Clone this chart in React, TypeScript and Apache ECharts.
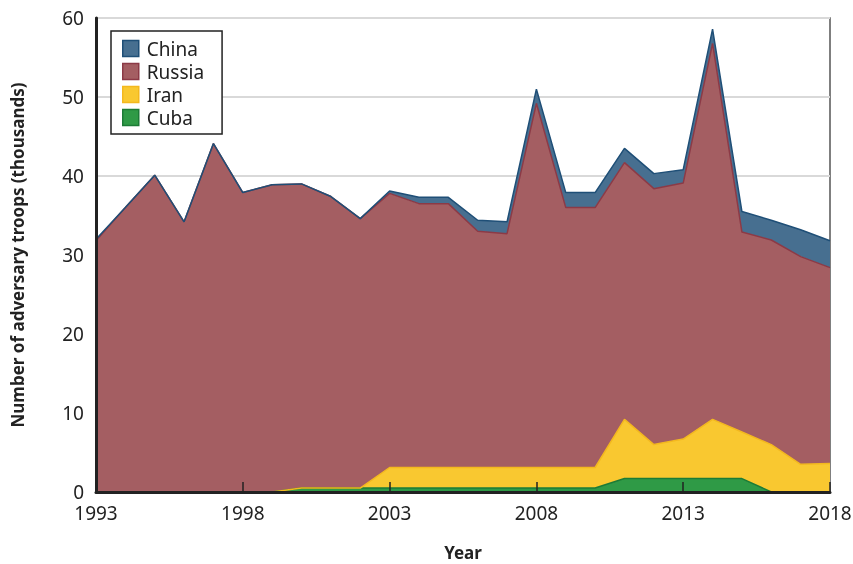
import React, { useEffect, useRef } from "react";
import * as echarts from "echarts";

const years = [
  "1993", "1994", "1995", "1996", "1997", "1998", "1999", "2000", "2001", "2002",
  "2003", "2004", "2005", "2006", "2007", "2008", "2009", "2010", "2011", "2012",
  "2013", "2014", "2015", "2016", "2017", "2018",
];
const cuba = [0, 0, 0, 0, 0, 0, 0, 0.5, 0.5, 0.5, 0.5, 0.5, 0.5, 0.5, 0.5, 0.5, 0.5, 0.5, 1.7, 1.7, 1.7, 1.7, 1.7, 0, 0, 0];
const iran = [0, 0, 0, 0, 0, 0, 0, 0, 0, 0, 2.6, 2.6, 2.6, 2.6, 2.6, 2.6, 2.6, 2.6, 7.5, 4.3, 5.0, 7.5, 5.9, 6.0, 3.5, 3.6];
const russia = [31.8, 36.0, 40.1, 34.2, 44.1, 37.9, 38.9, 38.5, 36.9, 34.1, 34.7, 33.4, 33.4, 29.9, 29.6, 46.1, 32.9, 32.9, 32.5, 32.4, 32.4, 47.6, 25.3, 25.9, 26.3, 24.8];
const china = [0.2, 0, 0, 0, 0, 0, 0, 0, 0, 0, 0.3, 0.8, 0.8, 1.4, 1.5, 1.8, 1.9, 1.9, 1.8, 1.9, 1.7, 1.8, 2.6, 2.5, 3.4, 3.4];
const legendOrder = ["China", "Russia", "Iran", "Cuba"];

const FONT = "Noto Sans";

function areaSeries(name: string, data: number[], fill: string, stroke: string) {
  return {
    name,
    type: "line",
    stack: "total",
    yAxisIndex: 0,
    data,
    symbol: "none",
    showSymbol: false,
    lineStyle: { color: stroke, width: 1.5 },
    itemStyle: { color: fill, borderColor: stroke, borderWidth: 1.5 },
    areaStyle: { color: fill, opacity: 1 },
    emphasis: { disabled: true },
  };
}

export default function App() {
  const ref = useRef<HTMLDivElement>(null);
  useEffect(() => {
    if (!ref.current) return;
    const chart = echarts.init(ref.current, undefined, { renderer: "svg" });
    chart.setOption({
      animation: false,
      textStyle: { fontFamily: FONT },
      grid: {
        left: 96,
        right: 23,
        top: 18,
        bottom: 72,
        outerBoundsMode: "none",
        containLabel: false,
        show: true,
        borderColor: "#555",
        borderWidth: 1.5,
        backgroundColor: "transparent",
      },
      legend: {
        data: legendOrder,
        orient: "vertical",
        left: 111,
        top: 31,
        backgroundColor: "#fff",
        borderColor: "#222",
        borderWidth: 1.5,
        borderRadius: 0,
        padding: [8, 18, 7, 11],
        itemWidth: 16,
        itemHeight: 16,
        itemGap: 4,
        icon: "rect",
        itemStyle: { borderWidth: 1.5 },
        textStyle: { fontSize: 19, color: "#222", fontFamily: FONT, padding: [0, 0, 0, 3] },
      },
      xAxis: {
        type: "category",
        data: years,
        boundaryGap: false,
        z: 10,
        name: "Year",
        nameLocation: "middle",
        nameGap: 52,
        nameTextStyle: { fontSize: 17, fontWeight: "bold", color: "#222", fontFamily: FONT },
        axisLine: { show: true, lineStyle: { color: "#222", width: 3 } },
        axisTick: { show: true, inside: true, interval: 4, length: 10, lineStyle: { color: "#222", width: 1.5 } },
        axisLabel: { interval: 4, fontSize: 19, lineHeight: 16, color: "#222", margin: 13, fontFamily: FONT },
        splitLine: { show: false },
      },
      yAxis: [
        {
          type: "value",
          min: 0,
          max: 60,
          interval: 10,
          name: "Number of adversary troops (thousands)",
          nameLocation: "middle",
          nameGap: 70,
          nameTextStyle: { fontSize: 17, fontWeight: "bold", color: "#222", fontFamily: FONT },
          axisLine: { show: false },
          axisTick: { show: false },
          axisLabel: { fontSize: 19, lineHeight: 16, color: "#222", margin: 12, fontFamily: FONT },
          splitLine: { show: true, lineStyle: { color: "#d9d9d9", width: 2 } },
        },
        {
          type: "value",
          min: 0,
          max: 60,
          interval: 10,
          position: "left",
          offset: 0,
          z: 10,
          axisLine: { show: true, onZero: false, lineStyle: { color: "#222", width: 3 } },
          axisTick: { show: false },
          axisLabel: { show: false },
          splitLine: { show: false },
        },
      ],
      series: [
        areaSeries("Cuba", cuba, "#2f9a46", "#1c7b36"),
        areaSeries("Iran", iran, "#f9c830", "#f3b81e"),
        areaSeries("Russia", russia, "#a45e62", "#8c3a46"),
        areaSeries("China", china, "#476f90", "#1f4f77"),
      ],
    });
    return () => chart.dispose();
  }, []);
  return (
    <div
      ref={ref}
      style={{ position: "fixed", left: 0, top: 0, width: 853, height: 564 }}
    />
  );
}
